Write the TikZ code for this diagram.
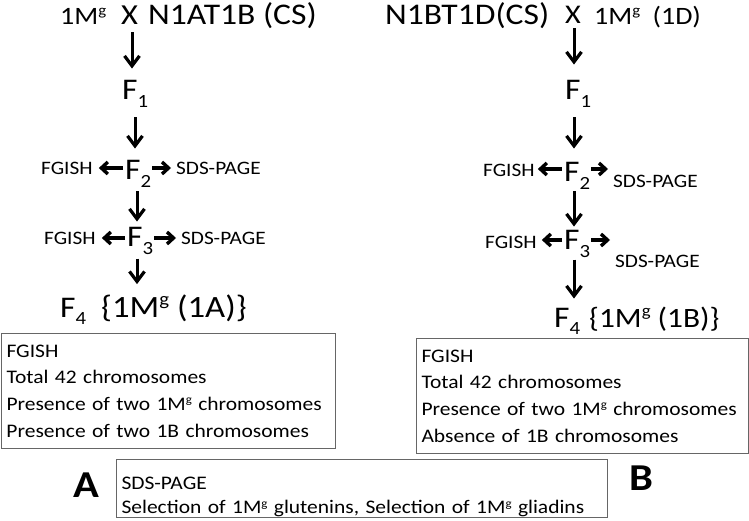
\documentclass[tikz,border=0pt]{standalone}
\usepackage{fontspec}
\setmainfont{Carlito}[FakeStretch=1.12]
\usetikzlibrary{arrows.meta}
\newcommand\fsz[1]{\fontsize{#1}{#1}\selectfont}
\newcommand\sbx[1]{\raisebox{-0.24em}{\scalebox{0.62}{#1}}}
\newcommand\spg{\raisebox{0.36em}{\scalebox{0.6}{g}}}
\begin{document}
\begin{tikzpicture}[x=1pt,y=-1pt,
  every node/.style={inner sep=0pt, anchor=base west},
  big/.style={font=\fsz{30}},
  gen/.style={font=\fsz{30}},
  lab/.style={font=\fsz{19}},
  varr/.style={line width=3pt, -{Straight Barb[length=10pt,width=15pt,line width=3.2pt]}},
  harr/.style={line width=3.2pt, -{Straight Barb[length=6.5pt,width=12pt,line width=3.4pt]}},
  infobox/.style={draw=black!60, line width=1pt, anchor=north west, align=left,
    inner xsep=5pt, font=\fsz{19.2}},
  letter/.style={font=\fsz{38}\bfseries}]
\useasboundingbox (0,0) rectangle (749,521);

% ---------- left column ----------
\node[font=\fsz{25}] (t1a) at (60,25) {1M\spg};
\node[font=\fsz{29}] (t1x) at (121,25) {X};
\node[big] (t1b) at (148,25) {N1AT1B (CS)};
\node[gen] (F1L) at (122,100) {F\sbx{1}};
\node[gen] (F2L) at (125,180) {F\sbx{2}};
\node[gen] (F3L) at (127,247) {F\sbx{3}};
\node[gen] (F4L) at (60,317) {F\sbx{4}};
\node[font=\fsz{31}] (R4L) at (101,317) {\{1M\spg{} (1A)\}};
\node[lab] (G2L) at (41,175) {FGISH};
\node[lab] (S2L) at (176,175) {SDS-PAGE};
\node[lab] (G3L) at (44,244) {FGISH};
\node[lab] (S3L) at (181,244) {SDS-PAGE};

\coordinate (cL1) at (132,0);
\coordinate (cL2) at (135,0);
\coordinate (cL3) at (137,0);
\draw[varr, shorten <=7pt, shorten >=12pt] (t1x.south -| cL1) -- (F1L.north -| cL1);
\draw[varr, shorten <=10pt, shorten >=12pt] (F1L.south -| cL2) -- (F2L.north -| cL2);
\draw[varr, shorten <=4pt, shorten >=6pt] (F2L.south -| cL3) -- (F3L.north -| cL3);
\draw[varr, shorten <=4pt, shorten >=10pt] (F3L.south -| cL3) -- (R4L.north -| cL3);

\coordinate (h2L) at (0,168);
\coordinate (h3L) at (0,238);
\draw[harr, shorten <=2pt, shorten >=6pt] (F2L.west |- h2L) -- (G2L.east |- h2L);
\draw[harr, shorten <=1pt, shorten >=5pt] (F2L.east |- h2L) -- (S2L.west |- h2L);
\draw[harr, shorten <=2pt, shorten >=6pt] (F3L.west |- h3L) -- (G3L.east |- h3L);
\draw[harr, shorten <=1pt, shorten >=5pt] (F3L.east |- h3L) -- (S3L.west |- h3L);

\node[infobox, minimum width=334pt, minimum height=115pt, text width=324pt] (boxL) at (1,333)
  {FGISH\\[7.5pt]Total 42 chromosomes\\[7.5pt]Presence of two 1M\spg{} chromosomes\\[7.5pt]Presence of two 1B chromosomes};

% ---------- right column ----------
\node[big] (t2a) at (385,25) {N1BT1D(CS)};
\node[font=\fsz{27}] (t2x) at (565,24) {X};
\node[font=\fsz{25}] (t2b) at (594,25) {1M\spg\hspace{6pt} (1D)};
\node[gen] (F1R) at (565,100) {F\sbx{1}};
\node[gen] (F2R) at (564,182) {F\sbx{2}};
\node[gen] (F3R) at (564,250) {F\sbx{3}};
\node[gen] (F4R) at (554,327) {F\sbx{4}};
\node[font=\fsz{28}] (R4R) at (589,327) {\{1M\spg{} (1B)\}};
\node[lab] (G2R) at (483,177) {FGISH};
\node[lab] (S2R) at (613,188) {SDS-PAGE};
\node[lab] (G3R) at (485,248) {FGISH};
\node[lab] (S3R) at (615,268) {SDS-PAGE};

\coordinate (cR) at (574,0);
\draw[varr, shorten <=4pt, shorten >=16pt] (t2x.south -| cR) -- (F1R.north -| cR);
\draw[varr, shorten <=10pt, shorten >=14pt] (F1R.south -| cR) -- (F2R.north -| cR);
\draw[varr, shorten <=2pt, shorten >=4pt] (F2R.south -| cR) -- (F3R.north -| cR);
\draw[varr, shorten <=2pt, shorten >=9pt] (F3R.south -| cR) -- (F4R.north -| cR);

\coordinate (h2R) at (0,169);
\coordinate (h3R) at (0,240);
\draw[harr, shorten <=2pt, shorten >=3pt] (F2R.west |- h2R) -- (G2R.east |- h2R);
\draw[harr, shorten <=1pt, shorten >=5pt] (F2R.east |- h2R) -- (S2R.west |- h2R);
\draw[harr, shorten <=2pt, shorten >=5pt] (F3R.west |- h3R) -- (G3R.east |- h3R);
\draw[harr, shorten <=1pt, shorten >=5pt] (F3R.east |- h3R) -- (S3R.west |- h3R);

\node[infobox, minimum width=332pt, minimum height=115pt, text width=322pt] (boxR) at (416,338)
  {FGISH\\[7.5pt]Total 42 chromosomes\\[7.5pt]Presence of two 1M\spg{} chromosomes\\[7.5pt]Absence of 1B chromosomes};

% ---------- bottom ----------
\node[infobox, minimum width=491pt, minimum height=58pt, text width=481pt] (boxS) at (116,459)
  {\rule{0pt}{30pt}SDS-PAGE\\[5pt]Selection of 1M\spg{} glutenins, Selection of 1M\spg{} gliadins};
\node[letter] (lA) at (73,497) {A};
\node[letter] (lB) at (629,490) {B};
\end{tikzpicture}
\end{document}
